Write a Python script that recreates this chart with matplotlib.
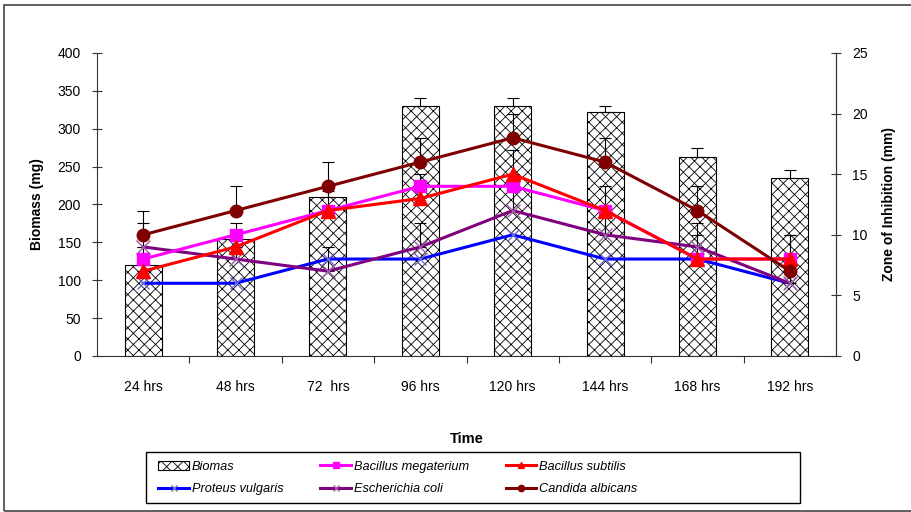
import numpy as np
from matplotlib import pyplot as plt
from matplotlib.patches import Rectangle

plt.rcParams['font.family'] = ['Liberation Sans', 'DejaVu Sans']
plt.rcParams['hatch.linewidth'] = 0.6

times = ['24 hrs', '48 hrs', '72  hrs', '96 hrs', '120 hrs', '144 hrs', '168 hrs', '192 hrs']

biomass = [120, 155, 210, 330, 330, 322, 263, 235]
biomass_err = [8, 10, 8, 10, 10, 8, 12, 10]

b_megaterium = [8, 10, 12, 14, 14, 12, 8, 8]
b_subtilis = [7, 9, 12, 13, 15, 12, 8, 8]
p_vulgaris = [6, 6, 8, 8, 10, 8, 8, 6]
e_coli = [9, 8, 7, 9, 12, 10, 9, 6]
c_albicans = [10, 12, 14, 16, 18, 16, 12, 7]

subtilis_err = [2, 2, 2, 2, 2, 2, 2, 2]
coli_err = [2, 2, 2, 2, 2, 2, 2, 2]
albicans_err = [2, 2, 2, 2, 2, 2, 2, 3]

x = np.arange(len(times))
axis_col = '#333333'

fig = plt.figure(figsize=(9.12, 5.12), dpi=100)
ax = fig.add_axes([0.1064, 0.3047, 0.8103, 0.5918])
ax2 = ax.twinx()

bars = ax.bar(x, biomass, 0.4, color='white', edgecolor='black', hatch='xxx',
              linewidth=0.8, label='Biomas')
ax.errorbar(x, biomass, yerr=[np.zeros(len(x)), biomass_err], fmt='none',
            ecolor='black', elinewidth=0.8, capsize=4, capthick=0.8)

zero = np.zeros(len(x))
for vals, err in [(b_subtilis, subtilis_err), (e_coli, coli_err), (c_albicans, albicans_err)]:
    ax2.errorbar(x, vals, yerr=[zero, err], fmt='none', ecolor='black',
                 elinewidth=0.8, capsize=4, capthick=0.8, zorder=1)

l_pv, = ax2.plot(x, p_vulgaris, color='#0000FF', lw=2.2, marker='x', ms=9,
                 mec='#6a6ad8', mew=1, label='Proteus vulgaris', zorder=2)
l_ec, = ax2.plot(x, e_coli, color='#800080', lw=2.2, marker='x', ms=10,
                 mec='#9a5aa8', mew=1, label='Escherichia coli', zorder=2)
l_bm, = ax2.plot(x, b_megaterium, color='#FF00FF', lw=2.2, marker='s', ms=9,
                 label='Bacillus megaterium', zorder=3)
l_bs, = ax2.plot(x, b_subtilis, color='#FF0000', lw=2.2, marker='^', ms=10,
                 label='Bacillus subtilis', zorder=3)
l_ca, = ax2.plot(x, c_albicans, color='#800000', lw=2.2, marker='o', ms=9,
                 label='Candida albicans', zorder=4)

ax.set_xlim(-0.5, len(x) - 0.5)
ax.set_ylim(0, 400)
ax.set_yticks(np.arange(0, 401, 50))
ax2.set_ylim(0, 25)
ax2.set_yticks(np.arange(0, 26, 5))

ax.set_xticks(np.arange(0.5, len(x) - 0.5, 1))
ax.set_xticklabels([])
ax.set_xticks(x, minor=True)
ax.set_xticklabels(times, minor=True)
ax.tick_params(axis='x', which='major', direction='out', length=5, color=axis_col)
ax.tick_params(axis='x', which='minor', length=0, pad=17, labelsize=10)
ax.tick_params(axis='y', direction='inout', length=7, color=axis_col, labelsize=10, pad=8)
ax2.tick_params(axis='y', direction='inout', length=7, color=axis_col, labelsize=10, pad=8)

for a in (ax, ax2):
    a.spines['top'].set_visible(False)
    for s in ('left', 'right', 'bottom'):
        a.spines[s].set_color(axis_col)
ax2.spines['left'].set_visible(False)
ax2.spines['bottom'].set_visible(False)

ax.set_ylabel('Biomass (mg)', fontsize=10, fontweight='bold', labelpad=10)
ax2.set_ylabel('Zone of Inhibition (mm)', fontsize=10, fontweight='bold', labelpad=10)
ax.set_xlabel('Time', fontsize=10.5, fontweight='bold', labelpad=28)

handles = [bars, l_pv, l_bm, l_ec, l_bs, l_ca]
labels = [h.get_label() for h in handles]
leg = fig.legend(handles, labels, ncol=3, loc='center left',
                 bbox_to_anchor=(152 / 912, (512 - 478) / 512),
                 prop={'style': 'italic', 'size': 9.2}, frameon=False,
                 handlelength=2.4, handletextpad=0.2, borderpad=0.0, labelspacing=0.85,
                 columnspacing=2.9, markerscale=0.5)

# legend frame is wider than the entries, draw it separately
fig.patches.append(Rectangle((146 / 912, (512 - 503) / 512), 654 / 912, 51 / 512,
                             transform=fig.transFigure, fill=False,
                             edgecolor='black', linewidth=1))
fig.patches.append(Rectangle((4 / 912, 0.002), 1, (512 - 5) / 512 - 0.002,
                             transform=fig.transFigure, fill=False,
                             edgecolor='#444444', linewidth=1.2))

fig.savefig('out.png', dpi=100)
